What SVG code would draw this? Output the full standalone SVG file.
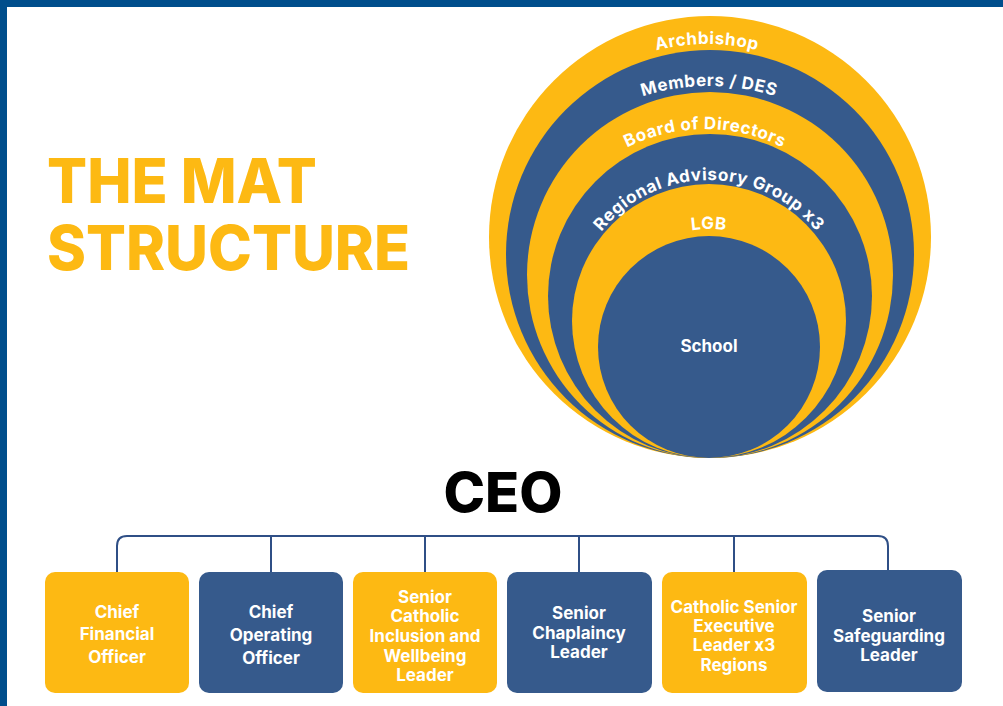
<svg xmlns="http://www.w3.org/2000/svg" width="1003" height="706" viewBox="0 0 1003 706">
<style>
.y{fill:#FDB913}
.b{fill:#365A8C}
.lbl{font-family:Inter,"Open Sans","Liberation Sans",sans-serif;font-weight:700;fill:#ffffff;text-anchor:middle}
.ring{font-size:17px;letter-spacing:0.6px}
.box{font-size:17px}
.title{font-family:Inter,"Open Sans","Liberation Sans",sans-serif;font-weight:800;fill:#FDB913;font-size:62px}
.conn{fill:none;stroke:#2F4F86;stroke-width:2}
</style>
<defs>
<path id="pArch" d="M499,252 A208,208 0 0 1 915,252"/>
<path id="pMem" d="M489,306 A220,220 0 0 1 929,306"/>
<path id="pBoard" d="M531,303 A174,174 0 0 1 879,303"/>
<path id="pReg" d="M571,318 A138,138 0 0 1 847,318"/>
<path id="pLgb" d="M588,350 A121,121 0 0 1 830,350"/>
</defs>
<rect x="0" y="0" width="1003" height="706" fill="#ffffff"/>
<rect x="0" y="0" width="1003" height="7" fill="#004E8C"/>
<rect x="0" y="0" width="7" height="706" fill="#004E8C"/>

<g id="title">
<text class="title" x="47" y="203" textLength="270" lengthAdjust="spacingAndGlyphs">THE MAT</text>
<text class="title" x="47" y="270" textLength="363" lengthAdjust="spacingAndGlyphs">STRUCTURE</text>
</g>

<g id="rings">
<g id="archbishop"><circle class="y" cx="710" cy="237" r="221"/></g>
<g id="members"><circle class="b" cx="710" cy="254" r="204"/></g>
<g id="board"><circle class="y" cx="710" cy="275" r="183"/></g>
<g id="regional"><circle class="b" cx="710" cy="296" r="162"/></g>
<g id="lgb"><circle class="y" cx="709" cy="321" r="137"/></g>
<g id="school"><circle class="b" cx="709" cy="347" r="111"/>
<text class="lbl" x="709" y="352" font-size="17">School</text></g>
<text class="lbl ring"><textPath href="#pArch" startOffset="50%">Archbishop</textPath></text>
<text class="lbl ring"><textPath href="#pMem" startOffset="50%">Members / DES</textPath></text>
<text class="lbl ring"><textPath href="#pBoard" startOffset="50%">Board of Directors</textPath></text>
<text class="lbl ring"><textPath href="#pReg" startOffset="50%">Regional Advisory Group x3</textPath></text>
<text class="lbl ring"><textPath href="#pLgb" startOffset="50%">LGB</textPath></text>
</g>

<g id="ceo">
<text x="503" y="512" font-family="Inter,'Open Sans','Liberation Sans',sans-serif" font-weight="800" font-size="55" fill="#000000" text-anchor="middle" textLength="119" lengthAdjust="spacingAndGlyphs">CEO</text>
</g>

<g id="connectors">
<path class="conn" d="M117,572 V546 Q117,536 127,536 H878 Q888,536 888,546 V570"/>
<path class="conn" d="M271,536 V572 M425,536 V572 M579,536 V572 M734,536 V572"/>
</g>

<g id="cfo">
<rect class="y" x="45" y="572" width="144" height="121" rx="10"/>
<text class="lbl box"><tspan x="117" y="618">Chief</tspan><tspan x="117" y="640">Financial</tspan><tspan x="117" y="663">Officer</tspan></text>
</g>
<g id="coo">
<rect class="b" x="199" y="572" width="144" height="121" rx="10"/>
<text class="lbl box"><tspan x="271" y="618">Chief</tspan><tspan x="271" y="641">Operating</tspan><tspan x="271" y="664">Officer</tspan></text>
</g>
<g id="inclusion">
<rect class="y" x="353" y="572" width="144" height="121" rx="10"/>
<text class="lbl box"><tspan x="425" y="603">Senior</tspan><tspan x="425" y="622">Catholic</tspan><tspan x="425" y="642">Inclusion and</tspan><tspan x="425" y="662">Wellbeing</tspan><tspan x="425" y="681">Leader</tspan></text>
</g>
<g id="chaplaincy">
<rect class="b" x="507" y="572" width="145" height="121" rx="10"/>
<text class="lbl box"><tspan x="579" y="619">Senior</tspan><tspan x="579" y="639">Chaplaincy</tspan><tspan x="579" y="658">Leader</tspan></text>
</g>
<g id="executive">
<rect class="y" x="662" y="572" width="145" height="121" rx="10"/>
<text class="lbl box"><tspan x="734" y="613">Catholic Senior</tspan><tspan x="734" y="632">Executive</tspan><tspan x="734" y="651">Leader x3</tspan><tspan x="734" y="671">Regions</tspan></text>
</g>
<g id="safeguarding">
<rect class="b" x="817" y="570" width="145" height="122" rx="10"/>
<text class="lbl box"><tspan x="889" y="622">Senior</tspan><tspan x="889" y="642">Safeguarding</tspan><tspan x="889" y="661">Leader</tspan></text>
</g>
</svg>
